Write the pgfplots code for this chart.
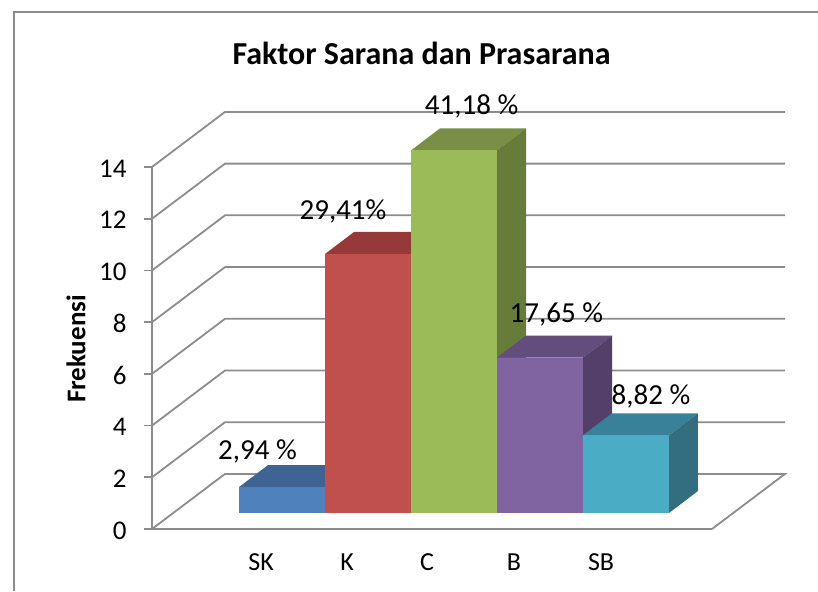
\documentclass[border=0pt]{standalone}
\usepackage{pgfplots}
\pgfplotsset{compat=1.18}
\usepackage{fontspec}
\setmainfont{Carlito}
\definecolor{ln}{HTML}{8C8C8C}
\definecolor{bluef}{HTML}{4F81BD}\definecolor{bluet}{HTML}{3F6491}
\definecolor{redf}{HTML}{C0504D}\definecolor{redt}{HTML}{953A38}
\definecolor{grnf}{HTML}{9BBB59}\definecolor{grnt}{HTML}{788F45}\definecolor{grns}{HTML}{677B3A}
\definecolor{purf}{HTML}{8064A2}\definecolor{purt}{HTML}{634D7D}\definecolor{purs}{HTML}{543F6A}
\definecolor{teaf}{HTML}{4BACC6}\definecolor{teat}{HTML}{398199}\definecolor{teas}{HTML}{326E80}
\begin{document}
\begin{tikzpicture}
\useasboundingbox (0,0) rectangle (818pt,591pt);
\draw[ln,line width=2pt] (14pt,0pt)--(14pt,579pt)--(818pt,579pt);
% wall, floor, value axis
\begin{axis}[
  at={(152pt,62pt)},anchor=south west,scale only axis,width=560pt,height=362pt,
  xmin=-1.512,xmax=5,ymin=0,ymax=14,clip=false,
  axis lines*=left,axis line style={ln,line width=2pt},
  tick align=outside,major tick length=8pt,
  ytick={0,2,4,6,8,10,12,14},
  ytick style={ln,line width=1.8pt},
  xtick={-0.244,0.756,1.686,2.698,3.71},
  xticklabels={SK,K,C,B,SB},
  xtick style={draw=none},
  ticklabel style={font=\fontsize{27}{27}\selectfont},
  yticklabel style={xshift=-14pt,yshift=-1.5pt},
  xticklabel style={yshift=-13pt,font=\fontsize{26}{26}\selectfont},
  /pgf/number format/assume math mode=true,
]
\addplot[ln,line width=1.8pt] coordinates {(5,0) (5.849,2.13) (-0.663,2.13) (-1.512,0)};
\addplot[ln,line width=1.8pt] coordinates {(-1.512,2) (-0.663,4.13) (5.849,4.13)};
\addplot[ln,line width=1.8pt] coordinates {(-1.512,4) (-0.663,6.13) (5.849,6.13)};
\addplot[ln,line width=1.8pt] coordinates {(-1.512,6) (-0.663,8.13) (5.849,8.13)};
\addplot[ln,line width=1.8pt] coordinates {(-1.512,8) (-0.663,10.13) (5.849,10.13)};
\addplot[ln,line width=1.8pt] coordinates {(-1.512,10) (-0.663,12.13) (5.849,12.13)};
\addplot[ln,line width=1.8pt] coordinates {(-1.512,12) (-0.663,14.13) (5.849,14.13)};
\addplot[ln,line width=1.8pt] coordinates {(-1.512,14) (-0.663,16.13) (5.849,16.13)};
\end{axis}
% bars: front base 14 px above the front floor edge, set back from the axis
\begin{axis}[
  at={(152pt,78pt)},anchor=south west,scale only axis,width=560pt,height=362.6pt,
  xmin=-1.512,xmax=5,ymin=0,ymax=14,clip=false,hide axis,
]
% SK = 1
\addplot[fill=bluet,draw=none] coordinates {(-0.5,1) (0.5,1) (0.837,1.85) (-0.163,1.85)} -- cycle;
\addplot[fill=bluef,draw=none] coordinates {(-0.5,0) (0.5,0) (0.5,1) (-0.5,1)} -- cycle;
% K = 10
\addplot[fill=redt,draw=none] coordinates {(0.5,10) (1.5,10) (1.837,10.85) (0.837,10.85)} -- cycle;
\addplot[fill=redf,draw=none] coordinates {(0.5,0) (1.5,0) (1.5,10) (0.5,10)} -- cycle;
% C = 14
\addplot[fill=grnt,draw=none] coordinates {(1.5,14) (2.5,14) (2.837,14.85) (1.837,14.85)} -- cycle;
\addplot[fill=grns,draw=none] coordinates {(2.5,0) (2.837,0.85) (2.837,14.85) (2.5,14)} -- cycle;
\addplot[fill=grnf,draw=none] coordinates {(1.5,0) (2.5,0) (2.5,14) (1.5,14)} -- cycle;
% B = 6
\addplot[fill=purt,draw=none] coordinates {(2.5,6) (3.5,6) (3.837,6.85) (2.837,6.85)} -- cycle;
\addplot[fill=purs,draw=none] coordinates {(3.5,0) (3.837,0.85) (3.837,6.85) (3.5,6)} -- cycle;
\addplot[fill=purf,draw=none] coordinates {(2.5,0) (3.5,0) (3.5,6) (2.5,6)} -- cycle;
% SB = 3
\addplot[fill=teat,draw=none] coordinates {(3.5,3) (4.5,3) (4.837,3.85) (3.837,3.85)} -- cycle;
\addplot[fill=teas,draw=none] coordinates {(4.5,0) (4.837,0.85) (4.837,3.85) (4.5,3)} -- cycle;
\addplot[fill=teaf,draw=none] coordinates {(3.5,0) (4.5,0) (4.5,3) (3.5,3)} -- cycle;
\begin{scope}[every node/.style={anchor=base,inner sep=0pt,font=\fontsize{29}{29}\selectfont}]
\node at (axis cs:-0.285,2.07) {2,94 \%};
\node at (axis cs:0.709,11.33) {29,41\%};
\node at (axis cs:2.205,15.38) {41,18 \%};
\node at (axis cs:3.19,7.35) {17,65 \%};
\node at (axis cs:4.29,4.19) {8,82 \%};
\end{scope}
\end{axis}
\node[anchor=base,inner sep=0pt,font=\bfseries\fontsize{32}{32}\selectfont] at (421.5pt,526.5pt) {Faktor Sarana dan Prasarana};
\node[rotate=90,anchor=center,inner sep=0pt,font=\bfseries\fontsize{27}{27}\selectfont] at (76pt,242pt) {Frekuensi};
\end{tikzpicture}
\end{document}
